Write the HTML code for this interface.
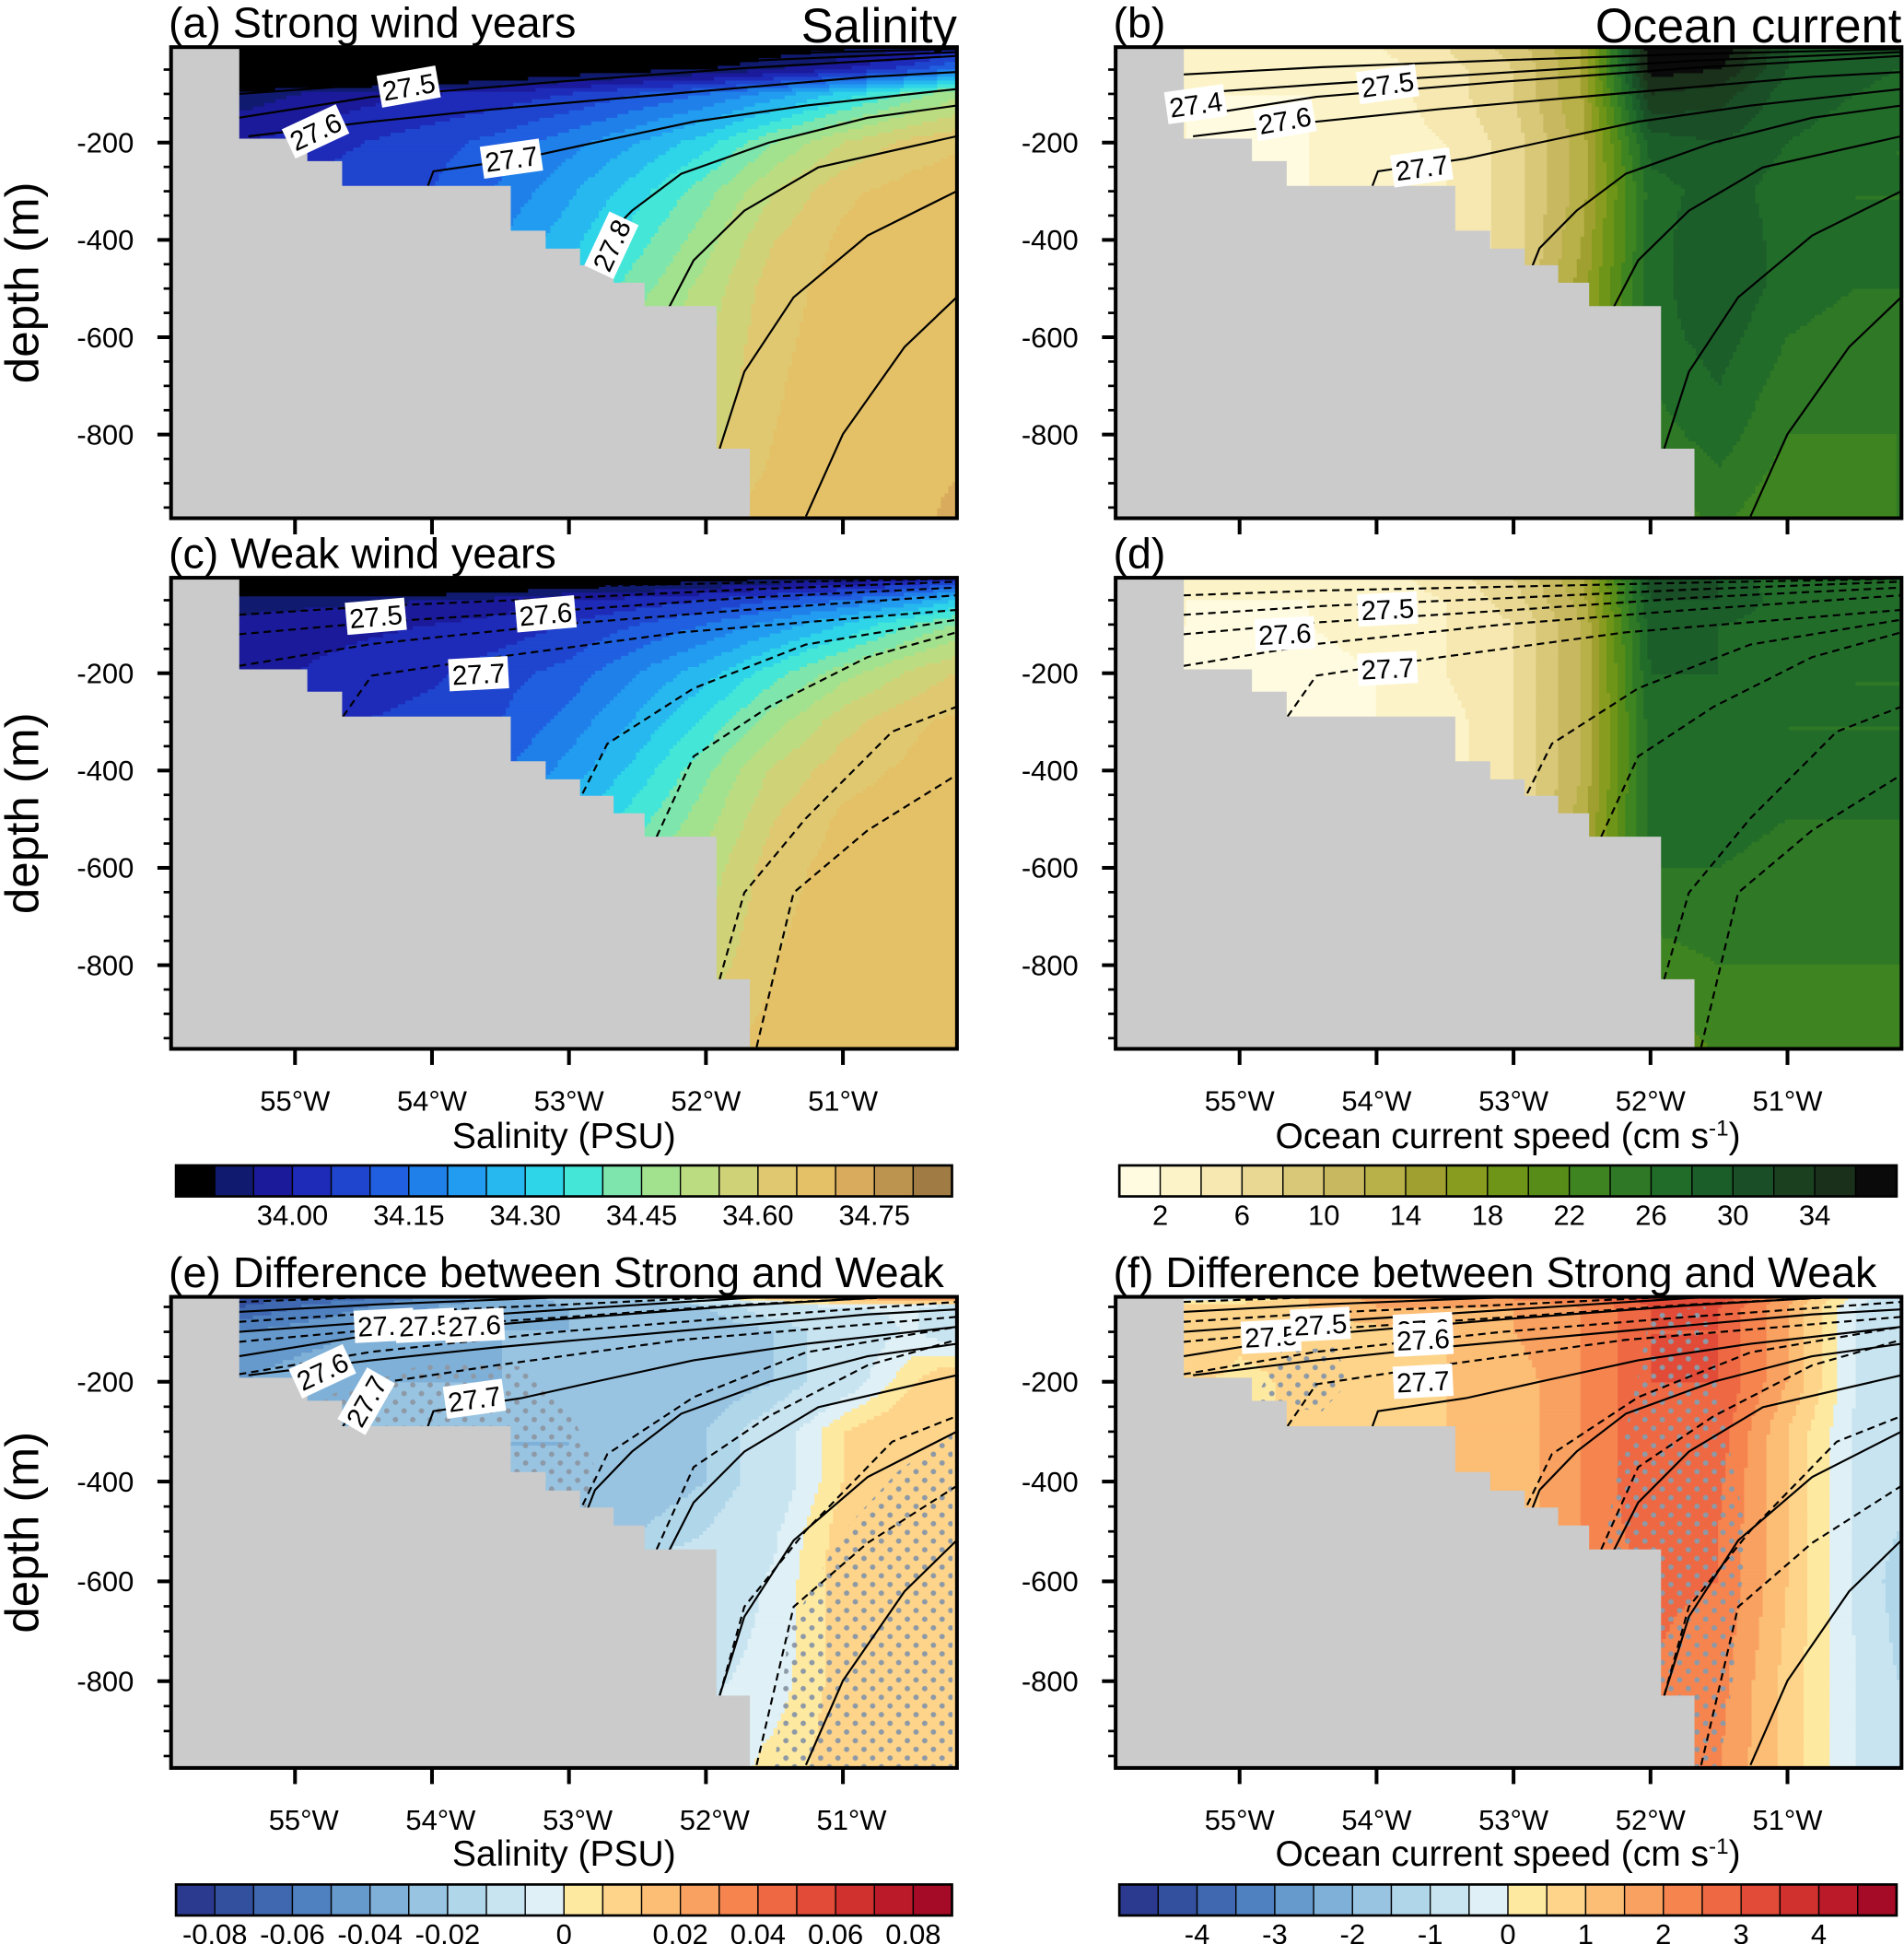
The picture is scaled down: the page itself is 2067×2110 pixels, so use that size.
<!DOCTYPE html>
<html><head><meta charset="utf-8">
<style>
html,body{margin:0;padding:0;background:#fff;overflow:hidden;width:2067px;height:2110px;}
svg{display:block;font-family:"Liberation Sans",Arial,sans-serif;}
</style></head>
<body>
<svg id="fig" xmlns="http://www.w3.org/2000/svg" width="2067" height="2110" viewBox="0 0 1536 1568" preserveAspectRatio="none">
<defs>
<pattern id="dots" width="14" height="14" patternUnits="userSpaceOnUse">
<circle cx="4" cy="4" r="2.2" fill="#8d99a6"/><circle cx="11" cy="11" r="2.2" fill="#8d99a6"/>
</pattern>
</defs>
</svg>
<script>
// ---------- grid coordinates ----------
const gridLon = [55.4,55.0,54.5,54.0,53.5,53.0,52.5,52.0,51.5,51.0,50.5,50.2];
const gridDepth = [0,50,100,200,300,400,500,600,800,1000];
// ---------- bathymetry ----------
const bathyLon = [55.407,54.91,54.656,53.425,53.17,52.919,52.674,52.448,51.923,51.679];
const bathyDepth = [192,238,289,381,418,452,488,536,829,2000];
// ---------- fields ----------
const salStrong = [
[33.6,33.6,33.6,33.6,33.65,33.7,33.75,33.8,33.85,33.88,33.92,34.0],
[33.7,33.7,33.72,33.75,33.8,33.85,33.88,33.9,33.95,34.0,34.08,34.15],
[33.92,33.95,33.98,34.0,34.02,34.05,34.1,34.15,34.22,34.32,34.42,34.48],
[34.0,34.02,34.05,34.08,34.12,34.18,34.25,34.33,34.45,34.55,34.62,34.64],
[34.05,34.06,34.08,34.1,34.16,34.24,34.33,34.43,34.55,34.64,34.67,34.68],
[34.08,34.1,34.12,34.15,34.2,34.28,34.38,34.48,34.6,34.66,34.68,34.69],
[34.12,34.14,34.16,34.2,34.25,34.33,34.43,34.52,34.63,34.67,34.68,34.69],
[34.2,34.2,34.22,34.25,34.3,34.38,34.48,34.54,34.64,34.67,34.68,34.69],
[34.4,34.4,34.42,34.45,34.5,34.55,34.58,34.58,34.65,34.68,34.69,34.69],
[34.5,34.5,34.52,34.55,34.6,34.64,34.66,34.66,34.67,34.68,34.69,34.71]];
const salWeak = [
[33.7,33.7,33.7,33.72,33.75,33.8,33.82,33.85,33.88,33.9,33.95,34.0],
[33.92,33.93,33.94,33.95,33.97,34.0,34.02,34.05,34.1,34.15,34.22,34.3],
[33.97,33.98,33.99,34.0,34.02,34.05,34.1,34.15,34.22,34.3,34.4,34.45],
[34.0,34.0,34.02,34.04,34.08,34.12,34.2,34.28,34.38,34.48,34.56,34.6],
[34.02,34.03,34.05,34.07,34.1,34.17,34.26,34.36,34.48,34.58,34.64,34.66],
[34.05,34.06,34.08,34.1,34.14,34.22,34.32,34.44,34.56,34.63,34.66,34.68],
[34.1,34.1,34.12,34.15,34.2,34.28,34.38,34.48,34.6,34.66,34.68,34.69],
[34.15,34.15,34.17,34.2,34.25,34.33,34.44,34.52,34.63,34.67,34.68,34.69],
[34.35,34.35,34.38,34.4,34.45,34.5,34.54,34.57,34.65,34.68,34.69,34.69],
[34.5,34.5,34.52,34.55,34.6,34.64,34.66,34.66,34.67,34.68,34.69,34.69]];
const spdStrong = [
[4,3,3,4,6,9,14,38,38,30,30,28],
[3,2,2,3,5,8,14,37,36,30,29,28],
[2,2,2,3,5,8,14,34,33,29,28,27],
[2,1,2,3,4,7,13,29,30,28,27,26],
[2,1,2,3,4,7,13,27,29,27,26,26],
[2,1,2,3,4,7,14,27,30,27,26,26],
[2,1,2,3,4,7,15,27,30,27,26,26],
[2,1,2,3,4,8,16,27,29,26,25,25],
[2,1,2,3,4,8,16,25,27,24,24,24],
[2,1,2,3,4,8,16,22,24,22,22,24]];
const spdWeak = [
[3,2,2,3,5,8,14,31,30,26,26,26],
[2,2,2,3,4,7,13,30,30,27,26,26],
[2,1,2,3,4,6,12,29,28,27,26,26],
[1,1,1,2,4,6,12,28,28,27,26,26],
[1,1,1,2,3,6,12,27,28,26,26,26],
[1,1,1,2,3,6,12,27,28,26,26,26],
[1,1,1,2,3,6,13,27,27,26,26,26],
[1,1,1,2,3,6,14,26,26,25,25,25],
[1,1,1,2,3,6,14,23,24,24,24,24],
[1,1,1,2,3,6,14,20,22,22,22,22]];
const salDiff = [
[-0.09,-0.09,-0.08,-0.06,-0.04,-0.02,0.0,0.02,0.04,0.06,0.08,0.09],
[-0.07,-0.06,-0.05,-0.04,-0.035,-0.03,-0.03,-0.02,-0.01,-0.005,-0.004,-0.01],
[-0.05,-0.045,-0.04,-0.035,-0.03,-0.03,-0.03,-0.025,-0.02,-0.01,-0.004,-0.01],
[-0.04,-0.035,-0.03,-0.03,-0.03,-0.03,-0.03,-0.025,-0.02,-0.01,0.004,0.012],
[-0.03,-0.03,-0.03,-0.03,-0.03,-0.03,-0.025,-0.02,-0.01,0.005,0.012,0.015],
[-0.03,-0.03,-0.03,-0.03,-0.03,-0.03,-0.025,-0.02,-0.01,0.005,0.012,0.012],
[-0.025,-0.025,-0.025,-0.025,-0.025,-0.025,-0.02,-0.015,-0.006,0.008,0.012,0.01],
[-0.02,-0.02,-0.02,-0.02,-0.02,-0.015,-0.01,-0.01,-0.004,0.008,0.008,0.008],
[-0.01,-0.01,-0.01,-0.01,-0.01,-0.01,-0.008,-0.006,-0.003,0.008,0.008,0.008],
[-0.01,-0.01,-0.01,-0.01,-0.01,-0.008,-0.005,-0.004,0.003,0.008,0.008,0.008]];
const spdDiff = [
[-3,-2,1,2,3,3,3,4,4,2,0.5,-1],
[1,1,1,1.5,1.5,1.5,2,3,3,1.5,-0.5,-1],
[0.8,0.6,0.6,0.8,1,1.5,2,3,3,1.5,-0.5,-1],
[0.6,0.4,0.6,0.8,1,1.2,2,3,3,1.5,-0.5,-1],
[0.5,0.5,0.5,0.8,1,1.2,2,3,2.8,1,-0.6,-1],
[0.5,0.5,0.5,0.8,1,1.2,2,3,2.6,1,-0.6,-1],
[0.5,0.5,0.5,0.8,1,1.2,2,2.8,2.5,1,-0.6,-1],
[0.5,0.5,0.5,0.8,1,1.2,2,2.6,2.5,1,-0.6,-1.2],
[0.5,0.5,0.5,0.8,1,1.2,2,2.5,2.2,0.8,-0.5,-1],
[0.5,0.5,0.5,0.8,1,1.2,2,2.4,2.0,0.8,-0.5,-1]];
// ---------- colour scales ----------
const salLevels = [33.9,33.95,34.0,34.05,34.1,34.15,34.2,34.25,34.3,34.35,34.4,34.45,34.5,34.55,34.6,34.65,34.7,34.75,34.8];
const salColors = ['#000000','#101a6e','#1a1a9a','#1e2ab8','#1f45cf','#1f5fe0','#2080ea','#229cf0','#26b8ee','#2ed4e8','#44e6d8','#7ee6ac','#a2e28e','#bcdc82','#d0d278','#e0c870','#e4c066','#d8ac5c','#bc9450','#a07c44'];
const salTickLabels = ['34.00','34.15','34.30','34.45','34.60','34.75'];
const salTickIdx = [2,5,8,11,14,17];
const spdLevels = [2,4,6,8,10,12,14,16,18,20,22,24,26,28,30,32,34,36];
const spdColors = ['#fffbe0','#fcf4c8','#f6e8b0','#e8d894','#d8c878','#c8b860','#b8b048','#a0a030','#889c20','#6e9418','#588c18','#3e8420','#2e7826','#226c2a','#1c5e2a','#1a4e26','#1a4020','#1a301a','#0a0a0a'];
const spdTickLabels = ['2','6','10','14','18','22','26','30','34'];
const spdTickIdx = [0,2,4,6,8,10,12,14,16];
const sdLevels = [-0.08,-0.07,-0.06,-0.05,-0.04,-0.03,-0.02,-0.015,-0.005,0,0.005,0.015,0.02,0.03,0.04,0.05,0.06,0.07,0.08];
const diffColors = ['#2b3a8f','#33509f','#3f68b0','#4f80bf','#6699cc','#7fb0d8','#98c4e2','#b0d6ea','#c8e4f0','#dff0f6','#fee9a0','#fdd48a','#fcbd74','#f9a160','#f5844f','#ee6843','#e24b38','#d0302e','#bb1a29','#a50a26'];
const sdTickLabels = ['-0.08','-0.06','-0.04','-0.02','0','0.02','0.04','0.06','0.08'];
const sdTickIdx = [0,2,4,6,9,12,14,16,18];
const vdLevels = [-4.5,-4,-3.5,-3,-2.5,-2,-1.5,-1,-0.5,0,0.5,1,1.5,2,2.5,3,3.5,4,4.5];
const vdTickLabels = ['-4','-3','-2','-1','0','1','2','3','4'];
const vdTickIdx = [1,3,5,7,9,11,13,15,17];
// ---------- isopycnals (lon, depth) ----------
const strongLines = [
[[55.41,60],[54.4,45],[53.0,30],[51.7,18],[50.17,8]],
[[55.41,100],[54.4,80],[53.0,55],[51.7,32],[50.17,14]],
[[55.41,149],[54.44,106],[53.08,75],[51.72,47],[50.17,22]],
[[55.34,187],[54.44,157],[53.53,131],[52.18,98],[50.82,65],[50.17,55]],
[[54.03,289],[53.99,259],[53.35,233],[52.81,200],[52.09,157],[51.27,124],[50.17,90]],
[[52.90,480],[52.81,417],[52.54,340],[52.18,264],[51.54,200],[50.82,149],[50.17,124]],
[[52.27,539],[52.09,442],[51.72,340],[51.18,251],[50.17,187]],
[[51.90,829],[51.72,671],[51.36,518],[50.82,391],[50.17,300]],
[[51.27,968],[51.0,799],[50.55,620],[50.17,518]]];
const weakLines = [
[[55.41,40],[54.4,30],[53.0,22],[51.7,14],[50.17,6]],
[[55.41,80],[54.4,62],[53.0,45],[51.7,28],[50.17,12]],
[[55.41,120],[54.4,95],[53.0,70],[51.7,45],[50.17,24]],
[[55.41,185],[54.44,140],[53.08,100],[51.72,70],[50.17,40]],
[[54.65,289],[54.44,205],[53.53,167],[52.18,116],[50.17,70]],
[[52.90,447],[52.72,345],[52.09,231],[51.27,141],[50.17,90]],
[[52.36,536],[52.09,371],[51.54,269],[50.82,167],[50.17,116]],
[[51.90,829],[51.72,651],[51.27,498],[50.64,320],[50.17,269]],
[[51.63,968],[51.36,651],[50.82,523],[50.17,409]]];
const labelsA = [[54.17,85,-10,'27.5'],[54.85,177,-25,'27.6'],[53.42,233,-8,'27.7'],[52.69,411,-65,'27.8']];
const labelsB = [[55.32,121,-8,'27.4'],[53.92,80,-8,'27.5'],[54.67,154,-10,'27.6'],[53.67,251,-8,'27.7']];
const labelsC = [[54.41,83,-5,'27.5'],[53.17,78,-5,'27.6'],[53.66,201,-3,'27.7']];
const labelsD = [[53.92,68,-3,'27.5'],[54.67,119,-3,'27.6'],[53.92,190,-3,'27.7']];
const labelsE = [[54.35,87,-3,'27.5'],[54.05,87,-3,'27.5'],[53.69,87,-3,'27.6'],[54.8,179,-25,'27.6'],[54.48,239,-60,'27.7'],[53.69,234,-8,'27.7']];
const labelsF = [[54.77,109,-3,'27.5'],[54.41,85,-3,'27.5'],[53.66,95,-3,'27.6'],[53.66,115,-3,'27.6'],[53.66,199,-3,'27.7']];
// ---------- stippling regions (lon, depth) ----------
const stipE = [
[[54.9,240],[54.0,160],[53.3,170],[53.0,250],[52.8,380],[52.9,470],[53.2,430],[53.45,380],[54.66,290]],
[[51.5,975],[51.4,700],[51.0,500],[50.6,380],[50.2,300],[50.2,975]]];
const stipF = [
[[52.35,560],[52.25,380],[52.1,200],[52.0,60],[51.6,50],[51.45,300],[51.3,500],[51.4,800],[51.5,975],[51.9,975],[51.9,829]],
[[54.9,240],[54.7,140],[54.3,130],[54.2,200],[54.4,260]]];

// ---------- panel geometry ----------
const NS='http://www.w3.org/2000/svg';
const svg=document.getElementById('fig');
function el(tag,attrs,parent){const e=document.createElementNS(NS,tag);for(const k in attrs)e.setAttribute(k,attrs[k]);(parent||svg).appendChild(e);return e;}
const panels=[
{id:'a',px:138,top:38,d0:36.5,k:0.3925,field:salStrong,lev:salLevels,cols:salColors,lines:[[strongLines,'']],labels:labelsA,title:'(a) Strong wind years',right:'Salinity',xlab:false},
{id:'b',px:900,top:38,d0:36.5,k:0.3925,field:spdStrong,lev:spdLevels,cols:spdColors,lines:[[strongLines,'']],labels:labelsB,title:'(b)',right:'Ocean current',xlab:false},
{id:'c',px:138,top:466,d0:464.5,k:0.3925,field:salWeak,lev:salLevels,cols:salColors,lines:[[weakLines,'6,4']],labels:labelsC,title:'(c) Weak wind years',right:'',xlab:true},
{id:'d',px:900,top:466,d0:464.5,k:0.3925,field:spdWeak,lev:spdLevels,cols:spdColors,lines:[[weakLines,'6,4']],labels:labelsD,title:'(d)',right:'',xlab:true},
{id:'e',px:138,top:1046,d0:1034,k:0.4025,field:salDiff,lev:sdLevels,cols:diffColors,lines:[[weakLines,'6,4'],[strongLines,'']],labels:labelsE,title:'(e) Difference between Strong and Weak',right:'',xlab:true,stip:stipE},
{id:'f',px:900,top:1046,d0:1034,k:0.4025,field:spdDiff,lev:vdLevels,cols:diffColors,lines:[[weakLines,'6,4'],[strongLines,'']],labels:labelsF,title:'(f) Difference between Strong and Weak',right:'',xlab:true,stip:stipF}];
const W=634,H=380;
function interp(field,lon,d){
  let i=0; if(lon>=gridLon[0]){i=0;lon=gridLon[0];} else if(lon<=gridLon[gridLon.length-1]){i=gridLon.length-2;lon=gridLon[gridLon.length-1];} else {while(!(gridLon[i]>=lon&&gridLon[i+1]<=lon))i++;}
  let j=0; if(d<=gridDepth[0]){j=0;d=gridDepth[0];} else if(d>=gridDepth[gridDepth.length-1]){j=gridDepth.length-2;d=gridDepth[gridDepth.length-1];} else {while(!(gridDepth[j]<=d&&gridDepth[j+1]>=d))j++;}
  const tx=(gridLon[i]-lon)/(gridLon[i]-gridLon[i+1]), ty=(d-gridDepth[j])/(gridDepth[j+1]-gridDepth[j]);
  const a=field[j][i],b=field[j][i+1],c=field[j+1][i],e=field[j+1][i+1];
  return (a*(1-tx)+b*tx)*(1-ty)+(c*(1-tx)+e*tx)*ty;
}
function colorIdx(lev,v){let n=0;for(const l of lev)if(v>=l)n++;return n;}

panels.forEach(p=>{
  const xOf=lon=>p.px+(55.905-lon)*110.5;
  const lonOf=x=>55.905-(x-p.px)/110.5;
  const yOf=d=>p.d0+d*p.k;
  const dOf=y=>(y-p.d0)/p.k;
  const g=el('g',{});
  
  
  const clipId='clip'+p.id;
  const cp=el('clipPath',{id:clipId},g); el('rect',{x:p.px,y:p.top,width:W,height:H},cp);
  const fg=el('g',{'clip-path':'url(#'+clipId+')'},g);
  
  
  const st=3;
  for(let y=p.top;y<p.top+H;y+=st){
    const d=dOf(y+st/2);let runStart=p.px,runC=-1;
    let x=p.px;
    for(;x<p.px+W;x+=st){
      const ci=colorIdx(p.lev,interp(p.field,lonOf(x+st/2),d));
      if(ci!==runC){
        if(runC>=0){el('rect',{x:runStart,y:y,width:x-runStart+0.6,height:st+0.6,fill:p.cols[runC]},fg);}
        runStart=x;runC=ci;
      }
    }
    if(runC>=0){el('rect',{x:runStart,y:y,width:p.px+W-runStart+1,height:st+0.6,fill:p.cols[runC]},fg);}
  }
  if(p.stip){p.stip.forEach(poly=>{
    const s=el('polygon',{points:poly.map(q=>xOf(q[0])+','+yOf(q[1])).join(' '),fill:'url(#dots)'},fg);
    
    
  });}
  p.lines.forEach(([set,dash])=>{set.forEach(line=>{
    const pl=el('polyline',{points:line.map(q=>xOf(q[0])+','+yOf(q[1])).join(' '),fill:'none',stroke:'#000','stroke-width':1.6,'stroke-dasharray':dash||'none'},fg);
    
    
  });});
  let pts=[[p.px,p.top],[xOf(bathyLon[0]),p.top]];
  for(let i=0;i<bathyLon.length;i++){
    const prev=i===0?-100:bathyDepth[i-1];
    pts.push([xOf(bathyLon[i]),yOf(prev)]);
    pts.push([xOf(bathyLon[i]),yOf(bathyDepth[i])]);
  }
  pts.push([xOf(bathyLon[bathyLon.length-1]),p.top+H+5],[p.px,p.top+H+5]);
  pts[2][1]=p.top;
  const land=el('polygon',{points:pts.map(q=>q[0]+','+q[1]).join(' '),fill:'#cbcbcb'},fg);
  
  
  p.labels.forEach(([lon,d,rot,t])=>{
    const lg=el('g',{transform:`translate(${xOf(lon)},${yOf(d)}) rotate(${rot})`},fg);
    
    
    el('rect',{x:-24,y:-13,width:48,height:26,fill:'#fff'},lg);
    const tx=el('text',{x:0,y:8,'text-anchor':'middle','font-size':22},lg);tx.textContent=t;
  });
  const fr=el('rect',{x:p.px,y:p.top,width:W,height:H,fill:'none',stroke:'#000','stroke-width':3},g);
  
  
  for(let d=50;d<=950;d+=50){
    const major=d%200===0;const y=yOf(d);
    el('line',{x1:p.px-(major?11:6),x2:p.px,y1:y,y2:y,stroke:'#000','stroke-width':major?3:2},g);
    if(major){const t=el('text',{x:p.px-30,y:y+8,'text-anchor':'end','font-size':23},g);t.textContent='-'+d;
      }
  }
  [55,54,53,52,51].forEach(lon=>{
    const x=xOf(lon);
    el('line',{x1:x,x2:x,y1:p.top+H,y2:p.top+H+13,stroke:'#000','stroke-width':3},g);
    if(p.xlab){const t=el('text',{x:x+(p.id==='e'?7:0),y:p.top+H+50,'text-anchor':'middle','font-size':23},g);t.textContent=lon+'°W';
      }
  });
  const tt=el('text',{x:p.px-2,y:p.top-8,'font-size':34.6},g);tt.textContent=p.title;
  
  if(p.right){const rt=el('text',{x:p.px+W,y:p.top-4,'text-anchor':'end','font-size':39},g);rt.textContent=p.right;
    }
  if(p.px<500){const yt=el('text',{x:0,y:0,transform:`translate(31,${p.top+H/2}) rotate(-90)`,'text-anchor':'middle','font-size':38},g);yt.textContent='depth (m)';
    }
});

function colorbar(x,y,w,cols,labels,idx,title,titleY,name){
  const g=el('g',{});
  
  
  const bw=w/cols.length;
  cols.forEach((c,i)=>{el('rect',{x:x+i*bw,y:y,width:bw,height:25,fill:c,stroke:'#000','stroke-width':1},g);});
  el('rect',{x:x,y:y,width:w,height:25,fill:'none',stroke:'#000','stroke-width':2},g);
  labels.forEach((l,i)=>{const t=el('text',{x:x+(idx[i]+1)*bw,y:y+48,'text-anchor':'middle','font-size':23},g);t.textContent=l;});
  const t=el('text',{x:x+w/2,y:titleY,'text-anchor':'middle','font-size':29},g);
  if(title==='speed'){t.textContent='Ocean current speed (cm s';const s=el('tspan',{dy:-10,'font-size':18},t);s.textContent='-1';const s2=el('tspan',{dy:10},t);s2.textContent=')';}
  else t.textContent=title;
}
colorbar(142,940,626,salColors,salTickLabels,salTickIdx,'Salinity (PSU)',926,'salinity-colorbar');
colorbar(903,940,627,spdColors,spdTickLabels,spdTickIdx,'speed',926,'speed-colorbar');
colorbar(142,1520,626,diffColors,sdTickLabels,sdTickIdx,'Salinity (PSU)',1505,'salinity-diff-colorbar');
colorbar(903,1520,627,diffColors,vdTickLabels,vdTickIdx,'speed',1505,'speed-diff-colorbar');
</script>
</body></html>
